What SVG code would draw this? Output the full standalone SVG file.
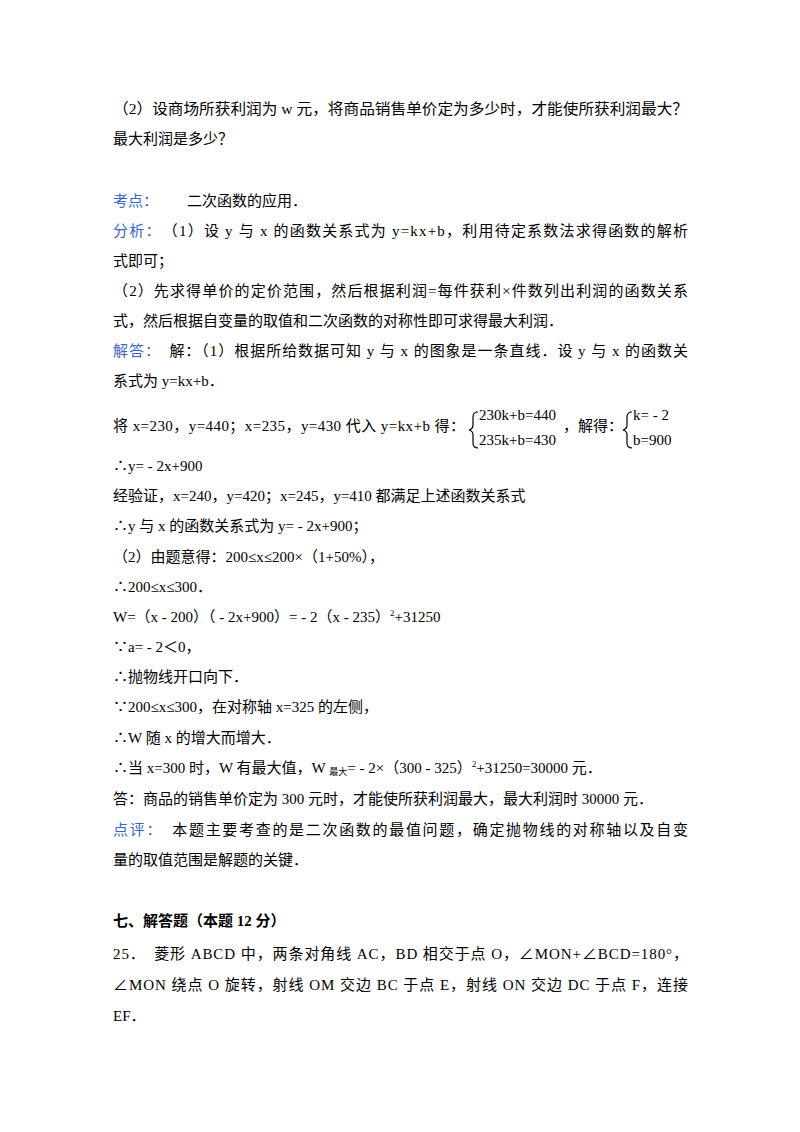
<svg xmlns="http://www.w3.org/2000/svg" width="800" height="1132" viewBox="0 0 800 1132">
<style>
text{font-family:"Liberation Serif","Noto Sans CJK SC",serif;font-size:15px;fill:#000}
.b{fill:#3a66c4}
.h{font-weight:bold}
</style>
<rect width="800" height="1132" fill="#fff"/>
<text x="113" y="114" textLength="575" lengthAdjust="spacingAndGlyphs">（2）设商场所获利润为 w 元，将商品销售单价定为多少时，才能使所获利润最大？</text>
<text x="113" y="144">最大利润是多少？</text>
<text x="113" y="206"><tspan class="b">考点：</tspan><tspan x="187">二次函数的应用．</tspan></text>
<text x="113" y="236" textLength="575" lengthAdjust="spacing"><tspan class="b">分析：</tspan>　（1）设 y 与 x 的函数关系式为 y=kx+b，利用待定系数法求得函数的解析</text>
<text x="113" y="266">式即可；</text>
<text x="113" y="296" textLength="575" lengthAdjust="spacing">（2）先求得单价的定价范围，然后根据利润=每件获利×件数列出利润的函数关系</text>
<text x="113" y="326">式，然后根据自变量的取值和二次函数的对称性即可求得最大利润．</text>
<text x="113" y="356" textLength="575" lengthAdjust="spacing"><tspan class="b">解答：</tspan>　解：（1）根据所给数据可知 y 与 x 的图象是一条直线．设 y 与 x 的函数关</text>
<text x="113" y="386">系式为 y=kx+b．</text>
<text x="113" y="431" textLength="352" lengthAdjust="spacing">将 x=230，y=440；x=235，y=430 代入 y=kx+b 得：</text>
<path d="M478,412 q-5,0 -5,5 v8 q0,4 -4,5 q4,1 4,5 v8 q0,5 5,5" fill="none" stroke="#000" stroke-width="1.2"/>
<text x="479" y="420" font-size="14">230k+b=440</text>
<text x="479" y="445" font-size="14">235k+b=430</text>
<text x="563" y="431">，解得：</text>
<path d="M632,412 q-5,0 -5,5 v8 q0,4 -4,5 q4,1 4,5 v8 q0,5 5,5" fill="none" stroke="#000" stroke-width="1.2"/>
<text x="633" y="420" font-size="14">k= - 2</text>
<text x="633" y="445" font-size="14">b=900</text>
<text x="113" y="471">∴y= - 2x+900</text>
<text x="113" y="501">经验证，x=240，y=420；x=245，y=410 都满足上述函数关系式</text>
<text x="113" y="531">∴y 与 x 的函数关系式为 y= - 2x+900；</text>
<text x="113" y="562">（2）由题意得：200≤x≤200×（1+50%），</text>
<text x="113" y="592">∴200≤x≤300．</text>
<text x="113" y="622">W=（x - 200）（ - 2x+900）= - 2（x - 235）<tspan font-size="9" dy="-6">2</tspan><tspan dy="6">+31250</tspan></text>
<text x="113" y="652">∵a= - 2＜0，</text>
<text x="113" y="682">∴抛物线开口向下．</text>
<text x="113" y="712">∵200≤x≤300，在对称轴 x=325 的左侧，</text>
<text x="113" y="743">∴W 随 x 的增大而增大．</text>
<text x="113" y="773">∴当 x=300 时，W 有最大值，W <tspan font-size="9" dy="2">最大</tspan><tspan dy="-2">= - 2×（300 - 325）</tspan><tspan font-size="9" dy="-6">2</tspan><tspan dy="6">+31250=30000 元．</tspan></text>
<text x="113" y="804">答：商品的销售单价定为 300 元时，才能使所获利润最大，最大利润时 30000 元．</text>
<text x="113" y="835" textLength="575" lengthAdjust="spacing"><tspan class="b">点评：</tspan>　本题主要考查的是二次函数的最值问题，确定抛物线的对称轴以及自变</text>
<text x="113" y="865">量的取值范围是解题的关键．</text>
<text x="113" y="926" class="h">七、解答题（本题 12 分）</text>
<text x="113" y="959" textLength="575" lengthAdjust="spacing">25．　菱形 ABCD 中，两条对角线 AC，BD 相交于点 O，∠MON+∠BCD=180°，</text>
<text x="113" y="990" textLength="575" lengthAdjust="spacing">∠MON 绕点 O 旋转，射线 OM 交边 BC 于点 E，射线 ON 交边 DC 于点 F，连接</text>
<text x="113" y="1021">EF．</text>
</svg>
